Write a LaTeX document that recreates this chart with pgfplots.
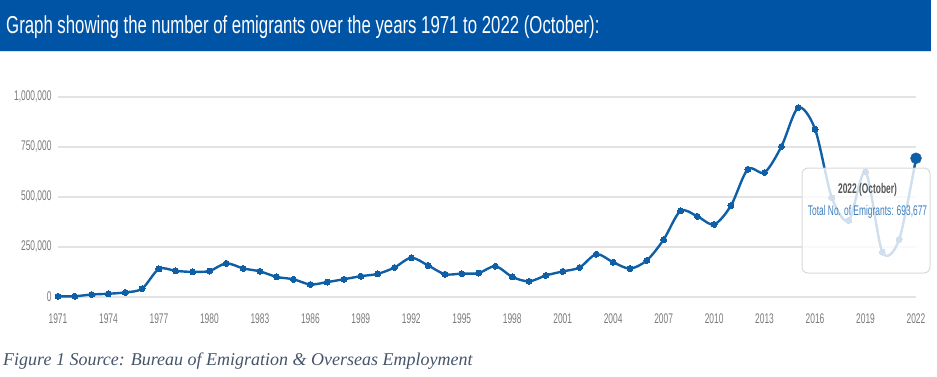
\documentclass[border=0pt]{standalone}
\usepackage{pgfplots}
\pgfplotsset{compat=1.18}
\usepackage{fontspec}
\setmainfont{Liberation Sans}
\newfontfamily\narrow[FakeStretch=0.6]{Liberation Sans}
\newfontfamily\titlefont[FakeStretch=0.685]{Liberation Sans}
\newfontfamily\capfont{Liberation Serif}
\definecolor{titleblue}{HTML}{0054A6}
\definecolor{lineblue}{HTML}{0F5FA6}
\definecolor{gridgray}{HTML}{E3E3E3}
\definecolor{ticklab}{HTML}{7A7A7A}
\definecolor{capcol}{HTML}{44546A}
\definecolor{tipblue}{HTML}{3D7EBF}
\definecolor{tipgray}{HTML}{555555}
\begin{document}
\begin{tikzpicture}[x=1pt,y=1pt]
\path[use as bounding box] (0,0) rectangle (937,376);
\fill[titleblue] (0,325) rectangle (931,376);
\draw[gray!25, line width=1pt] (0,324.5) -- (931,324.5);
\node[anchor=base west, inner sep=0, text=white, font=\titlefont\fontsize{24.5}{26}\selectfont] at (6,343) {Graph showing the number of emigrants over the years 1971 to 2022 (October):};
\begin{axis}[
  at={(58pt,79pt)}, anchor=south west,
  scale only axis, width=858pt, height=200pt,
  xmin=1971, xmax=2022, ymin=0, ymax=1000000,
  clip=false,
  axis line style={draw=none},
  major tick length=0pt,
  ymajorgrids, grid style={gridgray, line width=1.3pt},
  xtick={1971,1974,...,2022},
  ytick={0,250000,500000,750000,1000000},
  scaled y ticks=false,
  /pgf/number format/assume math mode=true,
  xticklabel style={/pgf/number format/set thousands separator={}, yshift=-13pt},
  yticklabel style={/pgf/number format/fixed, /pgf/number format/1000 sep={,}, xshift=-3pt},
  ticklabel style={font=\narrow\fontsize{14}{14}\selectfont, text=ticklab},
]
\addplot[lineblue, line width=2.4pt, smooth, tension=0.5, mark=*, mark size=3pt, mark options={fill=lineblue, draw=lineblue, line width=0pt}] coordinates {
(1971,3534) (1972,3851) (1973,12300) (1974,16328) (1975,23077) (1976,41690)
(1977,140445) (1978,130525) (1979,125492) (1980,129847) (1981,168403) (1982,143065)
(1983,128206) (1984,100366) (1985,88516) (1986,62596) (1987,74674) (1988,88844)
(1989,104181) (1990,115520) (1991,147422) (1992,196125) (1993,157675) (1994,114020)
(1995,117048) (1996,119622) (1997,153929) (1998,100650) (1999,78093) (2000,107733)
(2001,127929) (2002,147422) (2003,214039) (2004,173824) (2005,142135) (2006,183191)
(2007,287033) (2008,430314) (2009,403528) (2010,362904) (2011,456893) (2012,638587)
(2013,622714) (2014,752466) (2015,946571) (2016,839353) (2017,496286) (2018,382439)
(2019,625203) (2020,224705) (2021,288280) (2022,693677)
};
\addplot[only marks, mark=*, mark size=5.5pt, mark options={fill=lineblue, draw=lineblue}] coordinates {(2022,693677)};
\end{axis}
\fill[white, fill opacity=0.8, rounded corners=6pt] (802,103) rectangle (930,208);
\draw[gray!30, line width=1pt, rounded corners=6pt] (802,103) rectangle (930,208);
\node[font=\narrow\bfseries\fontsize{14}{14}\selectfont, text=tipgray, inner sep=0] at (867.5,186) {2022 (October)};
\node[font=\narrow\fontsize{14}{14}\selectfont, text=tipblue, inner sep=0] at (867.5,164) {Total No. of Emigrants: 693,677};
\node[anchor=base west, inner sep=0, text=capcol, font=\capfont\itshape\fontsize{18}{20}\selectfont] at (3,11) {Figure 1 Source: Bureau of Emigration \& Overseas Employment};
\end{tikzpicture}
\end{document}
